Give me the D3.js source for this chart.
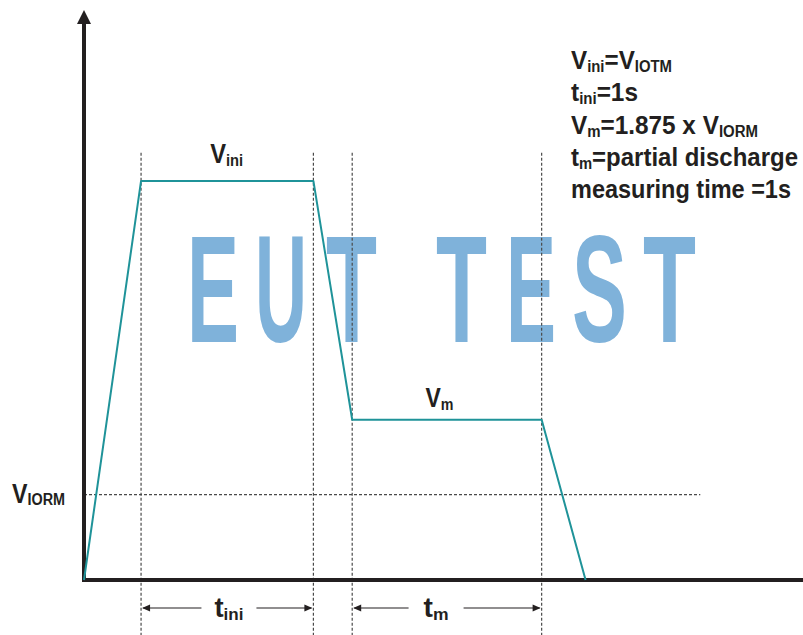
<!DOCTYPE html>
<html>
<head>
<meta charset="utf-8">
<script src="https://cdn.jsdelivr.net/npm/d3@7"></script>
<style>
  html, body { margin: 0; padding: 0; background: #fff; }
  svg { display: block; }
  text { font-family: "Liberation Sans", Arial, sans-serif; font-weight: bold; fill: #231f20; }
</style>
</head>
<body>
<script>
// ---- data ----
const timePoints    = [0, 1, 4.02, 4.7, 8.02, 8.79];
const voltagePoints = [0, 4.67, 4.67, 1.875, 1.875, 0];
const markerTimes   = [1, 4.02, 4.7, 8.02];
const markerTop     = 5;
const vIORM         = 1;
const vIORMEnd      = 10.8;
const timeMax       = 12.6;
const voltMax       = 6.67;
const intervals     = [
  { from: 1,   to: 4.02, labelT: 2.54, main: "t", sub: "ini" },
  { from: 4.7, to: 8.02, labelT: 6.17, main: "t", sub: "m" }
];
const levelLabels = [
  { t: 2.5,  v: 4.877, main: "V", sub: "ini" },
  { t: 6.23, v: 2.023, main: "V", sub: "m" }
];
const noteLines = [
  [["V",""],["ini","sub"],["=V",""],["IOTM","sub"]],
  [["t",""],["ini","sub"],["=1s",""]],
  [["V",""],["m","sub"],["=1.875 x V",""],["IORM","sub"]],
  [["t",""],["m","sub"],["=partial discharge",""]],
  [["measuring time =1s",""]]
];
const watermark = "EUT TEST";

// ---- layout ----
const W = 803, H = 635;
const x = d3.scaleLinear().domain([0, timeMax]).range([84, 803]);
const y = d3.scaleLinear().domain([0, voltMax]).range([580, 10]);

const svg = d3.select("body").append("svg").attr("width", W).attr("height", H);

// watermark, one glyph at a time
const wmLetters = watermark.replace(" ", "").split("");
const wmBox = [[187, 52], [255, 52], [326, 51], [436, 51], [506, 50], [572, 55], [643, 53]];
wmLetters.forEach((ch, i) => {
  svg.append("text").attr("x", wmBox[i][0]).attr("y", 342)
    .attr("textLength", wmBox[i][1]).attr("lengthAdjust", "spacingAndGlyphs")
    .style("font-size", "152px").style("fill", "#7fb2da").text(ch);
});

// dashed guide lines
svg.selectAll("line.mark").data(markerTimes).enter().append("line")
  .attr("x1", d => x(d)).attr("x2", d => x(d))
  .attr("y1", y(markerTop)).attr("y2", H)
  .attr("stroke", "#4a4a4a").attr("stroke-width", 1.2).attr("stroke-dasharray", "3,2");

svg.append("line")
  .attr("x1", x(0)).attr("x2", x(vIORMEnd))
  .attr("y1", y(vIORM)).attr("y2", y(vIORM))
  .attr("stroke", "#4a4a4a").attr("stroke-width", 1.2).attr("stroke-dasharray", "3,2");

// axes
svg.append("line").attr("x1", x(0)).attr("x2", x(0)).attr("y1", y(0) + 2).attr("y2", y(voltMax) + 10)
  .attr("stroke", "#231f20").attr("stroke-width", 4);
svg.append("line").attr("x1", x(0) - 2).attr("x2", x(timeMax)).attr("y1", y(0)).attr("y2", y(0))
  .attr("stroke", "#231f20").attr("stroke-width", 4);
svg.append("path")
  .attr("d", `M${x(0)},${y(voltMax)} L${x(0) - 7},${y(voltMax) + 14} L${x(0) + 7},${y(voltMax) + 14} Z`)
  .attr("fill", "#231f20");

// waveform
const pts = timePoints.map((t, i) => [t, voltagePoints[i]]);
svg.append("path").datum(pts)
  .attr("d", d3.line().x(d => x(d[0])).y(d => y(d[1])))
  .attr("fill", "none").attr("stroke", "#1f9399").attr("stroke-width", 2)
  .attr("stroke-linejoin", "round");

// sub-scripted label helper
function label(px, py, main, sub, size, anchor, len) {
  const t = svg.append("text").attr("x", px).attr("y", py).style("font-size", size + "px")
    .attr("text-anchor", anchor || "start");
  if (len) t.attr("textLength", len).attr("lengthAdjust", "spacingAndGlyphs");
  t.append("tspan").text(main);
  t.append("tspan").attr("dy", size * 0.1).style("font-size", (size * 0.62) + "px").text(sub);
  return t;
}

const levelLens = [33, 28];
levelLabels.forEach((l, i) => label(x(l.t), y(l.v), l.main, l.sub, 28, "middle", levelLens[i]));

// VIORM label
label(12, y(vIORM) + 8, "V", "IORM", 28, "start", 53);

// interval arrows
const ay = 608;
const ivLens = [29, 25];
intervals.forEach((iv, i) => {
  const x0 = x(iv.from), x1 = x(iv.to), xm = x(iv.labelT);
  svg.append("line").attr("x1", x0 + 2).attr("x2", xm - 27.5).attr("y1", ay).attr("y2", ay)
    .attr("stroke", "#231f20").attr("stroke-width", 1.2);
  svg.append("line").attr("x1", xm + 27.5).attr("x2", x1 - 2).attr("y1", ay).attr("y2", ay)
    .attr("stroke", "#231f20").attr("stroke-width", 1.2);
  svg.append("path").attr("d", `M${x0 + 1},${ay} l8,-3.5 l0,7 Z`).attr("fill", "#231f20");
  svg.append("path").attr("d", `M${x1 - 1},${ay} l-8,-3.5 l0,7 Z`).attr("fill", "#231f20");
  label(xm, 617, iv.main, iv.sub, 28, "middle", ivLens[i]);
});

// note block
const noteLens = [101, 67, 187, 227, 220];
noteLines.forEach((line, i) => {
  const t = svg.append("text").attr("x", 571).attr("y", 69 + i * 32.3).style("font-size", "26px")
    .attr("textLength", noteLens[i]).attr("lengthAdjust", "spacingAndGlyphs");
  let prevSub = false;
  line.forEach(([s, kind]) => {
    const sp = t.append("tspan").text(s);
    if (kind === "sub") {
      sp.style("font-size", "16px").attr("dy", prevSub ? 0 : 3);
      prevSub = true;
    } else {
      if (prevSub) sp.attr("dy", -3);
      prevSub = false;
    }
  });
});
</script>
</body>
</html>
